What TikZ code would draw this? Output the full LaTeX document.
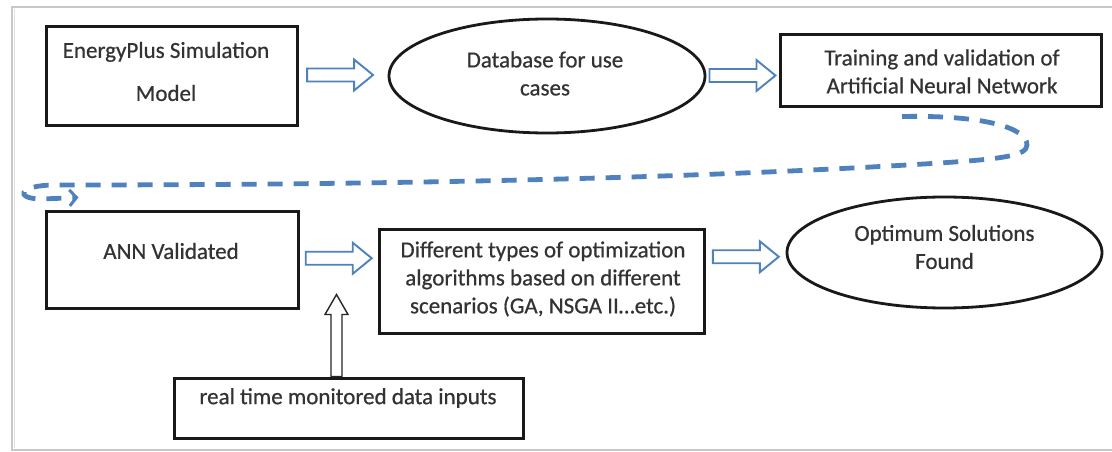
\documentclass[tikz,border=0pt]{standalone}
\usepackage{fontspec}
\setmainfont[FakeBold=0.6]{Carlito}
\usetikzlibrary{shapes.geometric,arrows.meta,calc}
\definecolor{flowblue}{HTML}{4F81BD}
\definecolor{inkgray}{HTML}{333333}
\definecolor{framegray}{HTML}{C8C8C8}
\tikzset{
  txt/.style={font=\fontsize{23}{28}\selectfont, text=inkgray, align=center, inner sep=0pt},
  stepbox/.style={draw=black!90, line width=3pt, inner sep=0pt},
  oval/.style={ellipse, draw=black!90, line width=2.8pt, inner sep=0pt},
  barrow/.style={draw=flowblue, fill=white, line width=1.9pt, line join=miter},
  uparrowline/.style={draw=black!85, fill=white, line width=1.4pt, line join=miter},
  % hollow block arrow pointing right, centred on the pic's origin
  pics/rightblock/.style={code={
    \path[barrow] (-33,-6.5) -- (14,-6.5) -- (14,-15.5) -- (33,0)
      -- (14,15.5) -- (14,6.5) -- (-33,6.5) -- cycle;}},
  % hollow block arrow pointing up, its tail on the pic's origin
  pics/upblock/.style={code={
    \path[uparrowline] (-5.5,0) -- (-5.5,-62) -- (-11.5,-62) -- (0,-82)
      -- (11.5,-62) -- (5.5,-62) -- (5.5,0) -- cycle;}},
  loopdash/.style={draw=flowblue, line width=4.8pt, dash pattern=on 15pt off 11pt}
}
\begin{document}
\begin{tikzpicture}[x=1pt,y=-1pt]
\useasboundingbox (0,0) rectangle (1112,452);
\fill[white] (0,0) rectangle (1112,452);

% outer frame
\draw[framegray, line width=1.6pt] (1112,7) -- (12,7) -- (12,450) -- (1112,450);
\draw[black!12, line width=1.2pt] (14.5,9) -- (14.5,448);

% top row
\node[stepbox, minimum width=251pt, minimum height=98pt] (ep) at (171.5,76) {};
\node[txt] (eptxt) at (166,71.5) {EnergyPlus Simulation\\[15pt]Model};

\node[oval, minimum width=316pt, minimum height=114pt] (db) at (547,76) {};
\node[txt] (dbtxt) at (545,73.5) {Database for use\\cases};

\node[stepbox, minimum width=321pt, minimum height=72pt] (train) at (940.5,71) {};
\node[txt] (traintxt) at (942,71.5) {Training and validation of\\Artificial Neural Network};

% bottom row
\node[stepbox, minimum width=252pt, minimum height=97pt] (ann) at (172,259.5) {};
\node[txt] (anntxt) at (171,251) {ANN Validated};

\node[stepbox, minimum width=325pt, minimum height=104pt] (opt) at (542,281) {};
\node[txt] (opttxt) at (543,279) {Different types of optimization\\algorithms based on different\\scenarios (GA, NSGA II\dots etc.)};

\node[oval, minimum width=315pt, minimum height=111pt] (sol) at (944.5,252.5) {};
\node[txt] (soltxt) at (944.5,247) {Optimum Solutions\\Found};

\node[stepbox, minimum width=349pt, minimum height=60pt] (data) at (348.5,408) {};
\node[txt] (datatxt) at (348,398) {real time monitored data inputs};

% block arrows between the steps
\pic at ($(ep.east)!0.5!(db.west)+(-3,-1)$) {rightblock};
\pic at ($(db.east)!0.5!(train.west)+(0,2)$) {rightblock};
\pic at ($(ann.east)!0.5!(opt.west)+(0,-12)$) {rightblock};
\pic at ($(opt.east)!0.5!(sol.west)+(0,-10)$) {rightblock};
\pic at ($(data.north)+(-12,0)$) {upblock};

% dashed loop from the trained network back to the validated one
\coordinate (loopstart) at ($(train.south)+(-38.5,8)$);
\coordinate (loopend) at ($(ann.north west)+(34,-12)$);
\draw[loopdash, -{Straight Barb[length=7pt,width=16pt,line width=3pt]}]
  (loopstart) .. controls (985,115) and (1027,128) .. (1027,145)
  .. controls (1027,156) and (1000,159) .. (940,163)
  .. controls (700,178) and (400,185) .. (55,185)
  .. controls (18,185) and (14,199) .. (42,199) -- (loopend);
\end{tikzpicture}
\end{document}
